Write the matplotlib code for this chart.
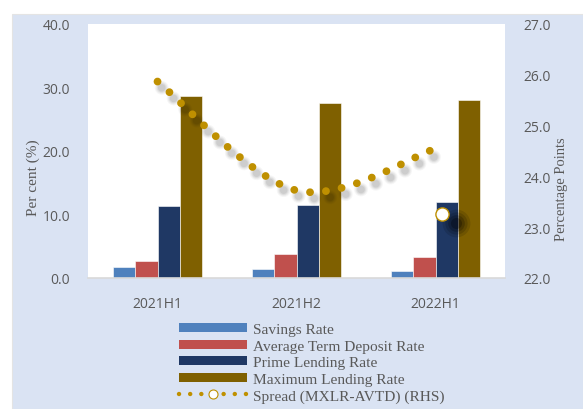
import matplotlib
matplotlib.use("Agg")
import matplotlib.pyplot as plt
from matplotlib.path import Path
from matplotlib.patches import PathPatch, Rectangle, Patch
from matplotlib.lines import Line2D
from matplotlib.transforms import ScaledTranslation
import numpy as np

# ---------------- data ----------------
categories = ["2021H1", "2021H2", "2022H1"]
savings_rate = [1.7, 1.4, 1.15]
avg_term_deposit_rate = [2.6, 3.8, 3.3]
prime_lending_rate = [11.3, 11.5, 11.9]
max_lending_rate = [28.6, 27.5, 28.0]
spread_rhs = [25.86, 23.72, 24.54]
spread_highlight_rhs = 23.25          # highlighted marker drawn at 2022H1
left_ticks = [0, 10, 20, 30, 40]
right_ticks = [22, 23, 24, 25, 26, 27]
series_names = ["Savings Rate", "Average Term Deposit Rate", "Prime Lending Rate",
                "Maximum Lending Rate", "Spread (MXLR-AVTD) (RHS)"]

# ---------------- style ----------------
C_SAV = "#4F81BD"
C_ATD = "#C0504D"
C_PLR = "#1F3864"
C_MLR = "#7F6000"
C_SPR = "#BF9000"
BG = "#DAE3F3"
TXT = "#595959"
SANS = ["Open Sans", "DejaVu Sans"]
SERIF = ["Liberation Serif", "DejaVu Serif"]

W, H = 583, 410
fig = plt.figure(figsize=(W / 100, H / 100), dpi=100)
fig.patch.set_facecolor("white")
fig.patches.append(Rectangle((12 / W, 0), 1 - 12 / W, (H - 15) / H, transform=fig.transFigure,
                             facecolor=BG, edgecolor="#E4E4E4", lw=0.8, zorder=-10))

ax = fig.add_axes([88 / W, 1 - 279 / H, 417 / W, 254.5 / H])
ax.set_facecolor("white")
x = np.arange(len(categories), dtype=float)
bw = 0.16
series = [savings_rate, avg_term_deposit_rate, prime_lending_rate, max_lending_rate]
colors = [C_SAV, C_ATD, C_PLR, C_MLR]
for i, (vals, c) in enumerate(zip(series, colors)):
    ax.bar(x + (i - 1.5) * bw, vals, width=bw, color=c, edgecolor="#FFFFFF", linewidth=0.4, zorder=2)

ax.set_xlim(-0.5, len(categories) - 0.5)
ax.set_ylim(0, 40)
ax.set_yticks(left_ticks)
ax.set_yticklabels([f"{v:.1f}" for v in left_ticks], fontfamily=SANS, fontsize=10, color=TXT)
ax.set_xticks(x)
ax.set_xticklabels(categories, fontfamily=SANS, fontsize=10, color=TXT)
ax.tick_params(axis="both", length=0)
ax.tick_params(axis="y", pad=13)
ax.tick_params(axis="x", pad=13)
for s in ["top", "right", "left"]:
    ax.spines[s].set_visible(False)
ax.spines["bottom"].set_color("#D9D9D9")
ax.spines["bottom"].set_linewidth(1.2)

ax2 = ax.twinx()
ax2.set_ylim(22, 27)
ax2.set_yticks(right_ticks)
ax2.set_yticklabels([f"{v:.1f}" for v in right_ticks], fontfamily=SANS, fontsize=10, color=TXT)
ax2.tick_params(axis="y", length=0, pad=13)
for s in ax2.spines.values():
    s.set_visible(False)

# smoothed spread line (Bezier through data points)
pts = np.column_stack([x, spread_rhs])
ext = np.vstack([pts[0], pts, pts[-1]])
verts = [tuple(pts[0])]
codes = [Path.MOVETO]
for i in range(len(pts) - 1):
    p0, p1, p2, p3 = ext[i], ext[i + 1], ext[i + 2], ext[i + 3]
    verts += [tuple(p1 + (p2 - p0) / 6), tuple(p2 - (p3 - p1) / 6), tuple(p2)]
    codes += [Path.CURVE4] * 3
path = Path(verts, codes)
DOT_STEP = 11.5  # points between dot centres


def dots(lw):
    return (0, (0.01, DOT_STEP / lw - 0.01))


shadow_tr = ax2.transData + ScaledTranslation(3 / 72, -4.5 / 72, fig.dpi_scale_trans)
for lw, a in [(10, 0.035), (8.5, 0.045), (7, 0.06), (5.5, 0.07)]:
    ax2.add_patch(PathPatch(path, fill=False, edgecolor="#000000", alpha=a, lw=lw,
                            linestyle=dots(lw), capstyle="round", transform=shadow_tr, zorder=3))
ax2.add_patch(PathPatch(path, fill=False, edgecolor=C_SPR, lw=5.6,
                        linestyle=dots(5.6), capstyle="round", zorder=4))

# highlighted marker with soft shadow
hx = x[-1] + 0.05
sh_tr = ax2.transData + ScaledTranslation(10 / 72, -6.5 / 72, fig.dpi_scale_trans)
for ms, a in [(20, 0.12), (16, 0.15), (12, 0.2), (8, 0.25)]:
    ax2.plot([hx], [spread_highlight_rhs], marker="o", ms=ms, mfc="#000000", mec="none", alpha=a,
             linestyle="none", transform=sh_tr, zorder=4)
ax2.plot([hx], [spread_highlight_rhs], marker="o", ms=9.5, mfc="white", mec=C_SPR, mew=1.0,
         linestyle="none", zorder=5)

# axis titles
fig.text(33 / W, 1 - 178 / H, "Per cent (%)", rotation=90, ha="center", va="center",
         fontfamily=SERIF, fontsize=11, color=TXT)
fig.text(561 / W, 1 - 189 / H, "Percentage Points", rotation=90, ha="center", va="center",
         fontfamily=SERIF, fontsize=10.5, color=TXT)

# legend
handles = [Patch(facecolor=c, edgecolor="none") for c in colors]
handles.append(Line2D([], [], color=C_SPR, lw=3.2, linestyle=(0, (0.01, 2.5)), dash_capstyle="round",
                      marker="o", ms=6.5, mfc="white", mec=C_SPR, mew=0.8))
leg = fig.legend(handles, series_names, loc="upper left", bbox_to_anchor=(179 / W, 1 - 324 / H),
                 frameon=False, prop={"family": SERIF, "size": 11.1}, labelcolor=TXT,
                 handlelength=4.4, handleheight=0.56, handletextpad=0.42, labelspacing=0.22,
                 borderpad=0, borderaxespad=0, numpoints=1)

fig.savefig("out.png", dpi=100, facecolor="white")
